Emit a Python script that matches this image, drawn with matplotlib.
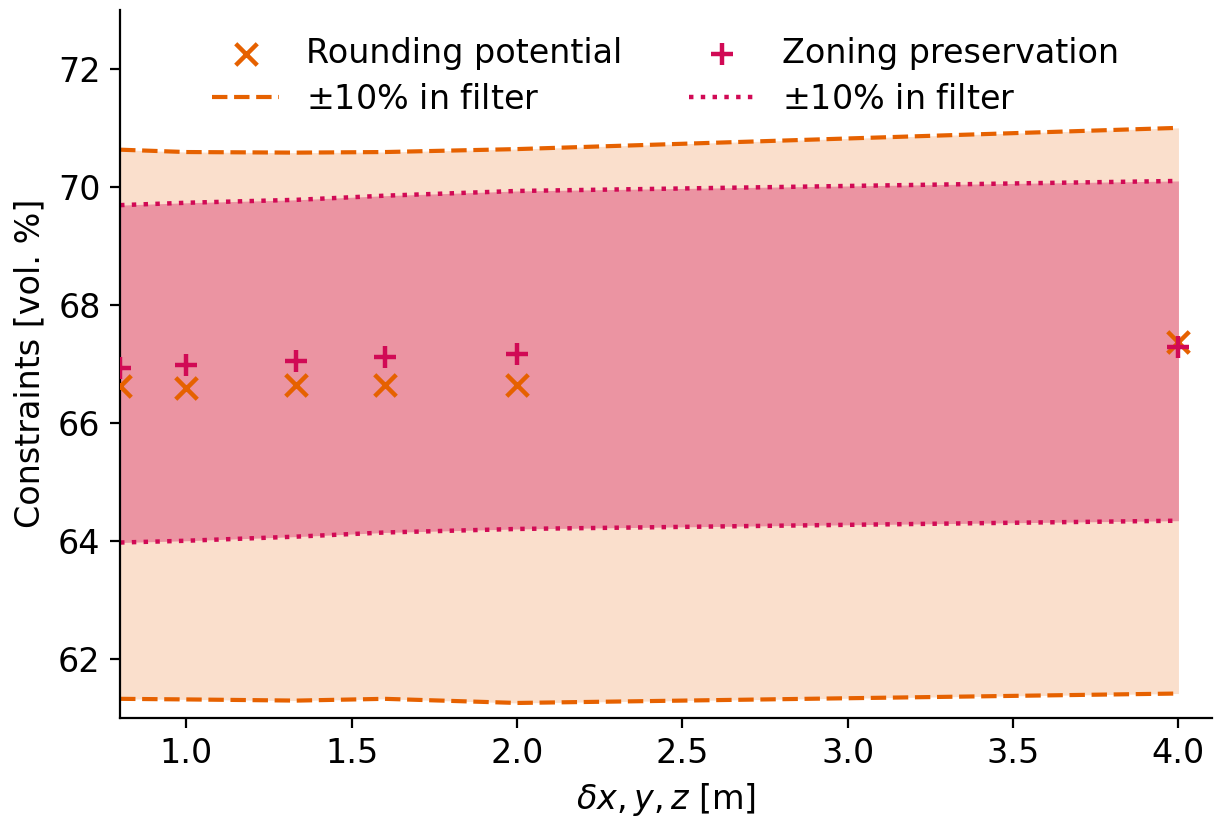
import numpy as np
import matplotlib.pyplot as plt

# ---------------- DATA ----------------
dx = [0.8, 1.0, 4/3, 1.6, 2.0, 4.0]

rounding     = [66.63, 66.59, 66.64, 66.64, 66.64, 67.37]
round_upper  = [70.63, 70.59, 70.58, 70.59, 70.64, 71.00]
round_lower  = [61.32, 61.31, 61.29, 61.32, 61.25, 61.41]

zoning       = [66.93, 66.98, 67.05, 67.11, 67.17, 67.29]
zone_upper   = [69.69, 69.73, 69.78, 69.85, 69.93, 70.10]
zone_lower   = [63.97, 64.00, 64.07, 64.14, 64.20, 64.34]

# ---------------- STYLE ----------------
ORANGE = "#E66100"
CRIMSON = "#D10A55"

plt.rcParams['font.size'] = 12

fig, ax = plt.subplots(figsize=(6.125, 4.12), dpi=200)
fig.subplots_adjust(left=0.098, right=0.989, top=0.988, bottom=0.129)

ax.fill_between(dx, round_lower, round_upper, color=ORANGE, alpha=0.2, lw=0)
ax.fill_between(dx, zone_lower, zone_upper, color=CRIMSON, alpha=0.35, lw=0)

ax.scatter(dx, rounding, marker='x', s=60, color=ORANGE, linewidths=1.6,
           label="Rounding potential", zorder=3)
ax.plot(dx, round_upper, '--', color=ORANGE, lw=1.5, label=r"$\pm$10% in filter")
ax.plot(dx, round_lower, '--', color=ORANGE, lw=1.5)

ax.scatter(dx, zoning, marker='+', s=60, color=CRIMSON, linewidths=1.6,
           label="Zoning preservation", zorder=3)
ax.plot(dx, zone_upper, ':', color=CRIMSON, lw=1.6, label=r"$\pm$10% in filter")
ax.plot(dx, zone_lower, ':', color=CRIMSON, lw=1.6)

ax.set_xlim(0.8, 4.1)
ax.set_ylim(61.0, 73.0)
ax.set_yticks([62, 64, 66, 68, 70, 72])
ax.set_xticks(np.arange(1.0, 4.01, 0.5))

ax.spines['top'].set_visible(False)
ax.spines['right'].set_visible(False)

ax.set_xlabel(r"$\delta x, y, z$ [m]")
ax.set_ylabel("Constraints [vol. %]")

# column 1: rounding + its band, column 2: zoning + its band
ax.legend(loc='upper center', ncol=2, frameon=False,
          bbox_to_anchor=(0.5, 1.0), columnspacing=2.0,
          labelspacing=0.4, borderaxespad=0.4)

fig.savefig("out.png")
